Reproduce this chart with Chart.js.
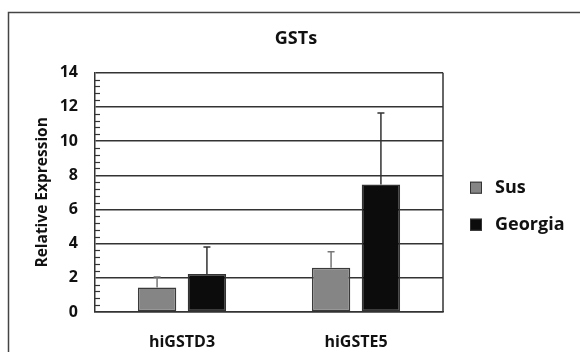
<!DOCTYPE html>
<html>
<head>
<meta charset="utf-8">
<script src="https://cdn.jsdelivr.net/npm/chart.js@4"></script>
<style>
  html, body { margin: 0; padding: 0; background: #fff; }
  #wrap { width: 580px; height: 352px; }
</style>
</head>
<body>
<div id="wrap"><canvas id="mainChart" width="580" height="352"></canvas></div>
<script>
const categories = ['hiGSTD3', 'hiGSTE5'];
const seriesNames = ['Sus', 'Georgia'];
const susValues = [1.44, 2.59];
const georgiaValues = [2.22, 7.46];
const susErrors = [0.61, 0.94];
const georgiaErrors = [1.58, 4.18];
const yMin = 0;
const yMax = 14;
const yStep = 2;
const yMinorStep = 0.4;

const FONT = "'Open Sans', 'DejaVu Sans', sans-serif";
const LINE = '#333';

// page frame + white background
const framePlugin = {
  id: 'frame',
  beforeDraw(chart) {
    const ctx = chart.ctx;
    ctx.save();
    ctx.fillStyle = '#fff';
    ctx.fillRect(0, 0, chart.width, chart.height);
    ctx.strokeStyle = '#444';
    ctx.lineWidth = 1.5;
    ctx.strokeRect(8.5, 12.5, 700, 500);
    ctx.restore();
  }
};

// upper error bars with caps
const errorBarPlugin = {
  id: 'errorBars',
  afterDatasetsDraw(chart) {
    const ctx = chart.ctx;
    const yScale = chart.scales.y;
    ctx.save();
    chart.data.datasets.forEach((ds, di) => {
      const meta = chart.getDatasetMeta(di);
      meta.data.forEach((bar, i) => {
        const top = yScale.getPixelForValue(ds.data[i] + ds.errors[i]);
        ctx.strokeStyle = ds.errorColor;
        ctx.lineWidth = 1.5;
        ctx.beginPath();
        ctx.moveTo(bar.x, bar.y);
        ctx.lineTo(bar.x, top);
        ctx.moveTo(bar.x - 3.5, top);
        ctx.lineTo(bar.x + 3.5, top);
        ctx.stroke();
      });
    });
    ctx.restore();
  }
};

// right border, minor ticks, legend
const extrasPlugin = {
  id: 'extras',
  afterDraw(chart) {
    const ctx = chart.ctx;
    const area = chart.chartArea;
    const yScale = chart.scales.y;
    ctx.save();
    ctx.strokeStyle = LINE;
    ctx.lineWidth = 1.5;
    ctx.beginPath();
    ctx.moveTo(area.right, area.top);
    ctx.lineTo(area.right, area.bottom);
    ctx.stroke();

    // minor ticks (inside)
    ctx.lineWidth = 1.2;
    const n = Math.round((yMax - yMin) / yMinorStep);
    const perMajor = Math.round(yStep / yMinorStep);
    for (let i = 1; i < n; i++) {
      if (i % perMajor === 0) continue;
      const y = Math.round(yScale.getPixelForValue(yMin + i * yMinorStep)) + 0.5;
      ctx.beginPath();
      ctx.moveTo(area.left, y);
      ctx.lineTo(area.left + 5, y);
      ctx.stroke();
    }

    // legend
    const lx = area.right + 27;
    const rows = [area.top + 115, area.top + 152];
    chart.data.datasets.forEach((ds, di) => {
      const cy = rows[di];
      ctx.fillStyle = ds.backgroundColor;
      ctx.fillRect(lx, cy - 6, 12, 12);
      ctx.strokeStyle = '#333';
      ctx.lineWidth = 1;
      ctx.strokeRect(lx + 0.5, cy - 5.5, 11, 11);
      ctx.fillStyle = '#111';
      ctx.font = 'bold 18px ' + FONT;
      ctx.textBaseline = 'middle';
      ctx.textAlign = 'left';
      ctx.fillText(ds.label, lx + 25, cy);
    });
    ctx.restore();
  }
};

const ctx = document.getElementById('mainChart').getContext('2d');
const chart = new Chart(ctx, {
  type: 'bar',
  data: {
    labels: categories,
    datasets: [
      {
        label: seriesNames[0],
        data: susValues,
        errors: susErrors,
        errorColor: '#777',
        backgroundColor: '#858585',
        borderColor: '#3a3a3a',
        borderWidth: 1.5,
        borderSkipped: false,
        categoryPercentage: 0.573,
        barPercentage: 0.77
      },
      {
        label: seriesNames[1],
        data: georgiaValues,
        errors: georgiaErrors,
        errorColor: '#333',
        backgroundColor: '#0c0c0c',
        borderColor: '#333',
        borderWidth: 1.5,
        borderSkipped: false,
        categoryPercentage: 0.573,
        barPercentage: 0.77
      }
    ]
  },
  options: {
    responsive: false,
    animation: false,
    devicePixelRatio: 1,
    layout: { padding: { left: 12, right: 0, top: 0, bottom: 0 } },
    plugins: {
      legend: { display: false },
      tooltip: { enabled: false },
      title: {
        display: true,
        text: 'GSTs',
        color: '#111',
        font: { family: FONT, size: 18, weight: 'bold' },
        padding: { top: 28, bottom: 23.1 }
      }
    },
    scales: {
      x: {
        grid: { display: false },
        border: { display: true, color: LINE, width: 1.5 },
        ticks: {
          color: '#111',
          font: { family: FONT, size: 16, weight: 'bold' },
          padding: 13
        },
        afterFit(scale) { scale.height = 40; }
      },
      y: {
        min: yMin,
        max: yMax,
        ticks: {
          stepSize: yStep,
          color: '#111',
          font: { family: FONT, size: 16, weight: 'bold' },
          padding: 17
        },
        grid: { color: LINE, lineWidth: 1.5, drawTicks: false },
        border: { display: true, color: LINE, width: 1.5 },
        title: {
          display: true,
          text: 'Relative Expression',
          color: '#111',
          font: { family: FONT, size: 15.5, weight: 'bold' },
          padding: { top: 21, bottom: 0 }
        },
        afterFit(scale) { scale.width = 83; }
      },
      y2: {
        position: 'right',
        display: true,
        ticks: { display: false },
        grid: { display: false },
        border: { display: false },
        afterFit(scale) { scale.width = 137; }
      }
    }
  },
  plugins: [framePlugin, errorBarPlugin, extrasPlugin]
});
</script>
</body>
</html>
